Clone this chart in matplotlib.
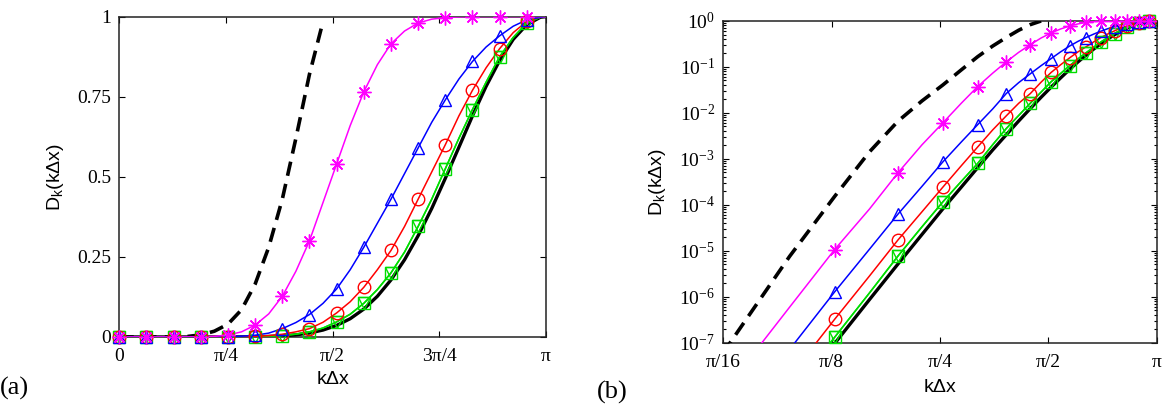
import numpy as np
import matplotlib
matplotlib.use("Agg")
import matplotlib.pyplot as plt
from matplotlib.ticker import LogLocator, NullFormatter, NullLocator

plt.rcParams["font.family"] = "Liberation Serif"
plt.rcParams["mathtext.fontset"] = "custom"
plt.rcParams["mathtext.rm"] = "Liberation Serif"

# ---- DATA ----
kdx = [0.0, 0.1, 0.2, 0.3, 0.4, 0.5, 0.6, 0.7, 0.8, 0.9,
       1.0, 1.1, 1.2, 1.3, 1.4, 1.5, 1.6, 1.7, 1.8, 1.9,
       2.0, 2.1, 2.2, 2.3, 2.4, 2.5, 2.6, 2.7, 2.8, 2.9,
       3.0, 3.1, np.pi]

d_black = [0, 9.6e-14, 9.8e-11, 5.6e-9, 9.5e-8, 8.6e-7, 5.1e-6, 2.25e-5, 8.1e-5, 2.4e-4,
           6.4e-4, 1.54e-3, 3.3e-3, 6.6e-3, 0.0123, 0.0216, 0.036, 0.057, 0.087, 0.127,
           0.178, 0.241, 0.316, 0.401, 0.495, 0.592, 0.69, 0.782, 0.863, 0.929,
           0.975, 0.998, 1.0]
d_green = [0, 1.3e-13, 1.3e-10, 7.3e-9, 1.3e-7, 1.2e-6, 7.6e-6, 3.3e-5, 1.15e-4, 3.2e-4,
           7.9e-4, 2.0e-3, 4.5e-3, 8.7e-3, 0.016, 0.028, 0.047, 0.071, 0.105, 0.148,
           0.20, 0.265, 0.345, 0.43, 0.525, 0.62, 0.71, 0.795, 0.875, 0.935,
           0.98, 0.998, 1.0]
d_red = [0, 3e-13, 3.2e-10, 1.8e-8, 3.2e-7, 2.8e-6, 1.7e-5, 7e-5, 2.4e-4, 7e-4,
         1.8e-3, 4.2e-3, 8.5e-3, 0.016, 0.026, 0.046, 0.075, 0.11, 0.155, 0.21,
         0.27, 0.345, 0.43, 0.515, 0.60, 0.69, 0.77, 0.84, 0.90, 0.95,
         0.985, 0.999, 1.0]
d_blue = [0, 1.2e-12, 1.2e-9, 7.1e-8, 1.26e-6, 1.07e-5, 6.2e-5, 2.5e-4, 8.5e-4, 2.3e-3,
          5.5e-3, 0.012, 0.026, 0.045, 0.07, 0.105, 0.15, 0.21, 0.28, 0.355,
          0.43, 0.51, 0.59, 0.67, 0.74, 0.805, 0.86, 0.905, 0.94, 0.97,
          0.99, 0.998, 1.0]
d_magenta = [0, 1e-11, 1e-8, 5.9e-7, 1.05e-5, 8e-5, 4.9e-4, 2e-3, 6e-3, 0.016,
             0.037, 0.072, 0.127, 0.205, 0.30, 0.42, 0.54, 0.66, 0.765, 0.85,
             0.915, 0.955, 0.98, 0.992, 0.997, 0.999, 1.0, 1.0, 1.0, 1.0,
             1.0, 1.0, 1.0]

kdx_dash = [0.0, 0.1, 0.2, 0.3, 0.4, 0.5, 0.6, 0.7, 0.8, 0.9,
            1.0, 1.1, 1.2, 1.3, 1.4, 1.5]
d_dash = [0, 1e-10, 7.5e-8, 7.5e-6, 1.5e-4, 1.4e-3, 6.5e-3, 0.018, 0.04, 0.085,
          0.165, 0.28, 0.43, 0.62, 0.82, 0.985]

lin_ticks = [0, np.pi / 4, np.pi / 2, 3 * np.pi / 4, np.pi]
lin_labels = ["0", "π/4", "π/2", "3π/4", "π"]
log_ticks = [np.pi / 16, np.pi / 8, np.pi / 4, np.pi / 2, np.pi]
log_labels = ["π/16", "π/8", "π/4", "π/2", "π"]
y_lin_ticks = [0, 0.25, 0.5, 0.75, 1]
y_lin_labels = ["0", "0.25", "0.5", "0.75", "1"]
y_log_exp = [-7, -6, -5, -4, -3, -2, -1, 0]

# marker style for each series (markers every 0.2)
series = [
    (d_green, "#00dd00", "s"),
    (d_green, "#00dd00", "v"),
    (d_red, "red", "o"),
    (d_blue, "blue", "^"),
    (d_magenta, "magenta", (8, 2, 0)),
]

fig = plt.figure(figsize=(11.65, 4.05), dpi=100)
ax1 = fig.add_axes([0.1024, 0.168, 0.3663, 0.791])
ax2 = fig.add_axes([0.6209, 0.154, 0.3719, 0.795])


def draw(ax, logy):
    x = np.array(kdx)
    xd = np.array(kdx_dash)
    if logy:
        ok = x > 0
        okd = xd > 0
    else:
        ok = np.ones(len(x), bool)
        okd = np.ones(len(xd), bool)
    ax.plot(xd[okd], np.array(d_dash)[okd], color="black", lw=2.6,
            dashes=(4, 2.3), zorder=3)
    ax.plot(x[ok], np.array(d_black)[ok], color="black", lw=2.4, zorder=3)
    xm = x[0:31:2]
    for y, c, m in series:
        y = np.array(y)
        ax.plot(x[ok], y[ok], color=c, lw=1.1, zorder=4)
        ym = y[0:31:2]
        keep = (ym >= 1e-7) & (xm > 0) if logy else np.ones(len(xm), bool)
        ax.plot(xm[keep], ym[keep], ls="none", marker=m, ms=9 if m != (8, 2, 0) else 10,
                mfc="none", mec=c, mew=1.0, color=c, clip_on=False, zorder=5)


draw(ax1, False)
ax1.set_xlim(0, np.pi)
ax1.set_ylim(0, 1)
ax1.set_xticks(lin_ticks)
ax1.set_xticklabels(lin_labels)
ax1.set_yticks(y_lin_ticks)
ax1.set_yticklabels(y_lin_labels)

draw(ax2, True)
ax2.set_xscale("log", base=2)
ax2.set_yscale("log")
ax2.set_xlim(np.pi / 16, np.pi)
ax2.set_ylim(1e-7, 1)
ax2.set_xticks(log_ticks)
ax2.set_xticklabels(log_labels)
ax2.xaxis.set_minor_locator(NullLocator())
ax2.set_yticks([10.0 ** e for e in y_log_exp])
ax2.set_yticklabels([r"$\mathregular{10^{%d}}$" % e for e in y_log_exp])
ax2.yaxis.set_minor_locator(LogLocator(base=10, subs=np.arange(2, 10)))
ax2.yaxis.set_minor_formatter(NullFormatter())

for ax, lp in ((ax1, 4), (ax2, 6)):
    ax.tick_params(which="both", direction="in", top=True, right=True,
                   labelsize=14, width=0.8)
    ax.tick_params(which="major", length=4)
    ax.tick_params(axis="x", which="major", pad=8)
    ax.tick_params(axis="y", which="major", pad=6)
    ax.tick_params(which="minor", length=2)
    for s in ax.spines.values():
        s.set_linewidth(1.1)
        s.set_color("#222222")
    ax.set_xlabel("kΔx", fontfamily="Liberation Sans", fontsize=14, labelpad=lp)
    ax.set_ylabel(r"D$_\mathregular{k}$(kΔx)", fontfamily="Liberation Sans",
                  fontsize=14, labelpad=8)

fig.text(0.0, 0.042, "(a)", fontsize=19, ha="left", va="center")
fig.text(0.512, 0.032, "(b)", fontsize=19, ha="left", va="center")

fig.savefig("out.png", dpi=100)
